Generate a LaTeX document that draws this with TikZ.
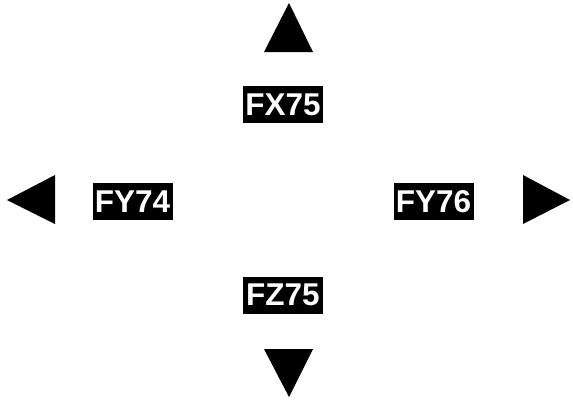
\documentclass[tikz,border=0pt]{standalone}
\usepackage{fontspec}
\setmainfont{Liberation Sans}
\usepackage{tikz}
\usetikzlibrary{positioning}
\definecolor{ink}{HTML}{000000}
\tikzset{
  tag/.style   = {fill=ink, text=white, inner sep=0pt, minimum width=80pt,
                  minimum height=37pt, font=\fontsize{31.5}{32}\selectfont\bfseries},
  pointer/.style = {fill=ink},
}
\begin{document}
\begin{tikzpicture}[x=1pt, y=-1pt]
  \useasboundingbox (0,0) rectangle (573,399);

  \node[tag] (fx) at (283,104.5) {FX75};
  \node[tag] (fy74) at (132.5,201.5) {FY74};
  \node[tag] (fy76) at (433.5,201.5) {FY76};
  \node[tag] (fz) at (283,295) {FZ75};

  % direction markers
  \fill[pointer] (289,3) -- (313,52) -- (264,52) -- cycle;
  \fill[pointer] (289,397) -- (313,349) -- (264,349) -- cycle;
  \fill[pointer] (7,200) -- (55,175) -- (55,224) -- cycle;
  \fill[pointer] (570,200) -- (523,175) -- (523,224) -- cycle;
\end{tikzpicture}
\end{document}
